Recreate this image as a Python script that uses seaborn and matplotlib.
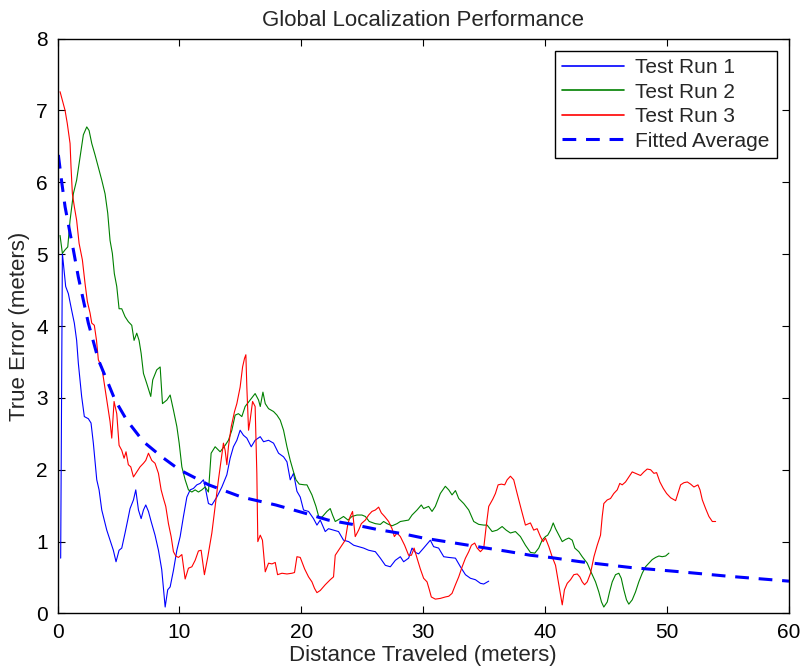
import matplotlib
matplotlib.use("Agg")
import matplotlib.pyplot as plt
import seaborn as sns

# Test Run 1 (blue)
run1_x = [0.26, 0.40, 0.67, 0.89, 1.16, 1.38, 1.57, 1.71, 1.98, 2.20, 2.53, 2.75, 2.94, 3.22, 3.41, 3.63,
          4.04, 4.31, 4.58, 4.80, 5.05, 5.27, 5.54, 5.76, 5.95, 6.23, 6.42, 6.64, 6.86, 7.05, 7.24, 7.46,
          7.68, 8.00, 8.28, 8.55, 8.83, 9.04, 9.24, 9.51, 9.79, 10.06, 10.33, 10.61, 10.88, 11.15, 11.43,
          11.70, 11.97, 12.11, 12.38, 12.66, 13.07, 13.48, 13.89, 14.16, 14.43, 14.71, 14.98, 15.25, 15.53,
          15.89, 16.21, 16.63, 16.90, 17.31, 17.72, 18.13, 18.54, 18.82, 19.09, 19.36, 19.64, 19.91, 20.18,
          20.59, 21.00, 21.28, 21.55, 21.96, 22.23, 22.64, 23.05, 23.46, 23.88, 24.29, 24.70, 25.11, 25.52,
          26.07, 26.48, 26.89, 27.30, 27.71, 28.12, 28.39, 28.80, 29.08, 29.35, 29.62, 30.03, 30.58, 30.85,
          31.26, 31.68, 32.09, 32.64, 33.05, 33.46, 33.87, 34.28, 34.69, 34.96, 35.37]
run1_y = [0.77, 5.01, 4.55, 4.45, 4.22, 4.04, 3.80, 3.48, 3.02, 2.74, 2.71, 2.65, 2.37, 1.86, 1.72, 1.44,
          1.16, 1.02, 0.88, 0.72, 0.88, 0.91, 1.12, 1.30, 1.46, 1.58, 1.72, 1.44, 1.32, 1.44, 1.51, 1.42,
          1.28, 1.09, 0.88, 0.61, 0.09, 0.33, 0.37, 0.60, 0.88, 1.07, 1.35, 1.62, 1.72, 1.74, 1.79,
          1.81, 1.86, 1.76, 1.53, 1.51, 1.62, 1.76, 1.93, 2.16, 2.32, 2.41, 2.55, 2.48, 2.44,
          2.32, 2.41, 2.46, 2.39, 2.41, 2.37, 2.23, 2.18, 2.11, 1.86, 1.95, 1.70, 1.62, 1.44,
          1.42, 1.32, 1.23, 1.30, 1.14, 1.18, 1.16, 1.14, 1.02, 1.00, 0.95, 0.93, 0.91, 0.88,
          0.86, 0.77, 0.67, 0.65, 0.74, 0.79, 0.72, 0.77, 0.91, 0.85, 0.83, 0.91, 1.02, 0.93,
          0.91, 0.79, 0.78, 0.77, 0.65, 0.54, 0.49, 0.47, 0.42, 0.41, 0.45]

# Test Run 2 (green)
run2_x = [0.21, 0.40, 0.62, 0.84, 1.03, 1.30, 1.57, 1.85, 2.12, 2.40, 2.59, 2.81, 3.08, 3.35, 3.63, 3.90,
          4.12, 4.31, 4.50, 4.66, 4.86, 5.05, 5.27, 5.54, 5.81, 6.09, 6.28, 6.50, 6.69, 6.86, 7.05, 7.32,
          7.65, 7.81, 8.14, 8.42, 8.61, 8.97, 9.24, 9.51, 9.79, 9.98, 10.20, 10.47, 10.74, 11.02, 11.29,
          11.56, 11.84, 12.11, 12.38, 12.60, 12.93, 13.34, 13.75, 14.02, 14.30, 14.57, 14.84, 15.12, 15.39,
          15.80, 16.21, 16.49, 16.63, 16.85, 17.04, 17.31, 17.72, 18.00, 18.27, 18.54, 18.82, 19.09, 19.36,
          19.56, 19.83, 20.27, 20.46, 20.87, 21.20, 21.47, 21.74, 22.10, 22.37, 22.56, 22.78, 23.19, 23.46,
          23.83, 24.15, 24.56, 24.97, 25.25, 25.57, 26.07, 26.48, 26.75, 27.03, 27.44, 27.85, 28.12, 28.47,
          28.80, 29.08, 29.49, 29.84, 30.03, 30.44, 30.72, 30.99, 31.40, 31.81, 32.09, 32.36, 32.64, 32.91,
          33.32, 33.73, 34.14, 34.55, 34.96, 35.24, 35.65, 36.06, 36.47, 36.80, 37.15, 37.56, 37.97, 38.38,
          38.79, 39.15, 39.47, 39.75, 40.02, 40.21, 40.44, 40.66, 40.85, 41.12, 41.40, 41.67, 41.94, 42.22,
          42.43, 42.76, 43.04, 43.45, 43.78, 44.13, 44.40, 44.62, 44.81, 45.09, 45.28, 45.50, 45.77, 46.04,
          46.24, 46.45, 46.67, 46.86, 47.14, 47.41, 47.68, 47.96, 48.23, 48.51, 48.78, 49.06, 49.33, 49.60,
          49.88, 50.15]
run2_y = [5.26, 5.01, 5.06, 5.10, 5.47, 5.84, 6.03, 6.35, 6.66, 6.77, 6.72, 6.54, 6.38, 6.21, 6.03, 5.84,
          5.57, 5.19, 5.01, 4.73, 4.55, 4.24, 4.24, 4.13, 4.06, 4.01, 3.80, 3.90, 3.80, 3.62, 3.34, 3.20,
          3.02, 3.25, 3.39, 3.43, 2.92, 2.97, 3.04, 2.83, 2.60, 2.37, 2.04, 1.86, 1.72, 1.69, 1.72,
          1.69, 1.72, 1.76, 1.69, 2.23, 2.32, 2.25, 2.34, 2.41, 2.55, 2.76, 2.78, 2.74, 2.88,
          2.97, 3.06, 2.97, 2.88, 3.08, 2.92, 2.85, 2.81, 2.76, 2.69, 2.55, 2.32, 2.13, 1.97,
          1.86, 1.80, 1.79, 1.79, 1.65, 1.49, 1.32, 1.35, 1.42, 1.46, 1.37, 1.28, 1.32, 1.35,
          1.30, 1.35, 1.37, 1.37, 1.35, 1.28, 1.25, 1.24, 1.28, 1.25, 1.22, 1.25, 1.28, 1.29,
          1.30, 1.37, 1.44, 1.51, 1.46, 1.49, 1.42, 1.49, 1.67, 1.77, 1.72, 1.65, 1.71, 1.60,
          1.53, 1.44, 1.28, 1.24, 1.23, 1.23, 1.14, 1.16, 1.21, 1.16, 1.12, 1.14, 1.07, 0.95,
          0.85, 0.84, 0.91, 1.02, 1.07, 1.09, 1.16, 1.26, 1.18, 1.09, 1.00, 1.03, 1.05, 1.02,
          0.91, 0.86, 0.79, 0.70, 0.57, 0.44, 0.30, 0.16, 0.09, 0.16, 0.30, 0.44, 0.54, 0.56,
          0.49, 0.33, 0.19, 0.13, 0.19, 0.30, 0.44, 0.56, 0.65, 0.70, 0.75, 0.78, 0.80, 0.79,
          0.80, 0.84]

# Test Run 3 (red)
run3_x = [0.21, 0.40, 0.62, 0.80, 1.03, 1.11, 1.22, 1.38, 1.57, 1.77, 2.04, 2.26, 2.45, 2.67, 2.81, 3.02,
          3.20, 3.35, 3.63, 3.90, 4.12, 4.31, 4.45, 4.64, 4.86, 5.05, 5.27, 5.46, 5.62, 5.81, 6.01, 6.23,
          6.50, 6.77, 7.05, 7.24, 7.46, 7.73, 8.00, 8.28, 8.50, 8.69, 8.88, 9.10, 9.32, 9.51, 9.70, 9.92,
          10.20, 10.47, 10.74, 11.02, 11.29, 11.56, 11.78, 12.05, 12.33, 12.66, 12.93, 13.20, 13.42, 13.61,
          13.75, 13.89, 14.02, 14.25, 14.52, 14.71, 14.98, 15.18, 15.34, 15.45, 15.53, 15.67, 15.80, 16.00,
          16.21, 16.35, 16.43, 16.63, 16.81, 17.04, 17.31, 17.59, 17.86, 18.05, 18.41, 18.82, 19.23, 19.44,
          19.64, 19.91, 20.27, 20.59, 20.87, 21.08, 21.28, 21.55, 21.96, 22.37, 22.64, 22.78, 23.05, 23.33,
          23.60, 23.82, 24.01, 24.20, 24.42, 24.70, 24.92, 25.25, 25.52, 25.79, 26.07, 26.34, 26.56, 26.83,
          27.16, 27.44, 27.63, 27.85, 28.12, 28.47, 28.80, 29.03, 29.25, 29.49, 29.76, 30.03, 30.31, 30.50,
          30.66, 30.99, 31.40, 31.81, 32.09, 32.36, 32.64, 32.91, 33.19, 33.46, 33.73, 33.95, 34.22, 34.42,
          34.69, 34.96, 35.16, 35.37, 35.70, 35.92, 36.14, 36.41, 36.68, 36.88, 37.15, 37.42, 37.70, 38.05,
          38.38, 38.79, 39.06, 39.34, 39.61, 39.83, 40.02, 40.30, 40.57, 40.85, 41.12, 41.40, 41.58, 41.81,
          42.08, 42.35, 42.63, 42.84, 43.04, 43.23, 43.45, 43.72, 44.00, 44.27, 44.54, 44.68, 44.81, 45.09,
          45.36, 45.63, 45.91, 46.12, 46.32, 46.59, 46.86, 47.14, 47.41, 47.82, 48.10, 48.37, 48.65, 48.92,
          49.14, 49.41, 49.69, 49.96, 50.29, 50.70, 50.89, 51.11, 51.38, 51.66, 51.93, 52.20, 52.53, 52.70,
          52.89, 53.16, 53.43, 53.71, 53.98]
run3_y = [7.26, 7.14, 7.00, 6.82, 6.54, 6.21, 5.84, 5.66, 5.47, 5.15, 4.92, 4.59, 4.34, 4.18, 4.04, 4.01,
          3.80, 3.53, 3.43, 3.13, 2.88, 2.67, 2.44, 2.95, 2.78, 2.34, 2.27, 2.16, 2.25, 2.07, 2.04, 1.90,
          1.97, 2.04, 2.09, 2.13, 2.23, 2.13, 2.09, 1.95, 1.72, 1.60, 1.49, 1.25, 1.07, 0.86, 0.80, 0.78,
          0.82, 0.48, 0.63, 0.65, 0.74, 0.87, 0.88, 0.54, 0.79, 1.12, 1.49, 1.86, 2.13, 2.37,
          2.27, 2.07, 2.32, 2.60, 2.81, 2.92, 3.15, 3.43, 3.55, 3.60, 3.15, 2.55, 2.69, 2.95,
          2.88, 1.95, 1.00, 1.09, 1.02, 0.58, 0.70, 0.69, 0.71, 0.54, 0.56, 0.55, 0.56, 0.57,
          0.79, 0.78, 0.62, 0.51, 0.44, 0.35, 0.29, 0.32, 0.40, 0.47, 0.51, 0.81, 0.88, 0.95,
          1.02, 1.25, 1.35, 1.42, 1.07, 1.16, 1.25, 1.30, 1.37, 1.42, 1.44, 1.48, 1.40, 1.35,
          1.28, 1.18, 1.07, 1.12, 1.07, 0.95, 0.81, 0.81, 0.91, 0.77, 0.62, 0.49, 0.44, 0.33,
          0.23, 0.20, 0.21, 0.23, 0.24, 0.28, 0.40, 0.51, 0.65, 0.77, 0.86, 0.95, 0.98, 0.91,
          0.86, 0.91, 1.21, 1.49, 1.59, 1.67, 1.79, 1.80, 1.79, 1.86, 1.91, 1.86, 1.67, 1.44,
          1.23, 1.26, 1.16, 1.18, 1.07, 1.00, 1.05, 0.93, 0.79, 0.67, 0.40, 0.12, 0.33, 0.42,
          0.47, 0.54, 0.55, 0.51, 0.44, 0.40, 0.44, 0.56, 0.79, 0.95, 1.09, 1.35, 1.53, 1.58,
          1.60, 1.67, 1.72, 1.81, 1.79, 1.83, 1.90, 1.97, 1.95, 1.92, 1.97, 2.01, 2.00, 1.95,
          1.96, 1.83, 1.74, 1.67, 1.61, 1.57, 1.67, 1.79, 1.82, 1.83, 1.80, 1.76, 1.79, 1.72,
          1.58, 1.46, 1.35, 1.28, 1.28]

# Fitted average
fit_x = [0.07, 0.34, 0.62, 1.03, 1.30, 1.71, 2.12, 2.53, 3.35, 4.04, 4.72, 5.68, 7.05, 8.55, 10.0,
         12.4, 15.1, 17.9, 20.2, 22.2, 24.2, 26.2, 28.3, 30.0, 32.6, 34.8, 36.7, 38.8, 40.4, 42.9,
         47.0, 51.1, 54.9, 60.0]
fit_y = [6.38, 6.01, 5.66, 5.29, 5.06, 4.68, 4.36, 4.04, 3.53, 3.25, 2.97, 2.69, 2.39, 2.18, 2.00,
         1.79, 1.62, 1.51, 1.40, 1.30, 1.24, 1.17, 1.11, 1.05, 0.98, 0.92, 0.87, 0.81, 0.78, 0.72,
         0.64, 0.58, 0.52, 0.45]

sns.set_style("white")
plt.rcParams['font.family'] = ['Liberation Sans', 'DejaVu Sans']

fig = plt.figure(figsize=(8.02, 6.71), dpi=100)
ax = fig.add_axes([0.0717, 0.0857, 0.9121, 0.8569])

sns.lineplot(x=run1_x, y=run1_y, color='#0000ff', lw=0.8, sort=False, estimator=None, label='Test Run 1', ax=ax)
sns.lineplot(x=run2_x, y=run2_y, color='#008000', lw=0.8, sort=False, estimator=None, label='Test Run 2', ax=ax)
sns.lineplot(x=run3_x, y=run3_y, color='#ff0000', lw=0.8, sort=False, estimator=None, label='Test Run 3', ax=ax)
sns.lineplot(x=fit_x, y=fit_y, color='#0000ff', lw=2.2, sort=False, estimator=None, label='Fitted Average', ax=ax)
ax.lines[-1].set_dashes((4.5, 3.2))

ax.set_xlim(0, 60)
ax.set_ylim(0, 8)
ax.set_xticks(range(0, 61, 10))
ax.set_yticks(range(0, 9))
ax.tick_params(direction='in', length=5, width=0.8, labelsize=15, top=True, right=True,
               bottom=True, left=True, colors='black', pad=7)
for sp in ax.spines.values():
    sp.set_visible(True)
    sp.set_color('black')
    sp.set_linewidth(1.0)

ax.set_title('Global Localization Performance', fontsize=16, pad=9)
ax.set_xlabel('Distance Traveled (meters)', fontsize=16, labelpad=2)
ax.set_ylabel('True Error (meters)', fontsize=16, labelpad=4)

leg = ax.legend(loc='upper right', fontsize=15, fancybox=False, framealpha=1, edgecolor='black',
                handlelength=3.0, labelspacing=0.26, borderaxespad=0.6, borderpad=0.35, handletextpad=0.5)
leg.get_frame().set_linewidth(1.0)
for h in leg.get_lines()[:3]:
    h.set_linewidth(1.2)

fig.savefig('out.png', dpi=100)
